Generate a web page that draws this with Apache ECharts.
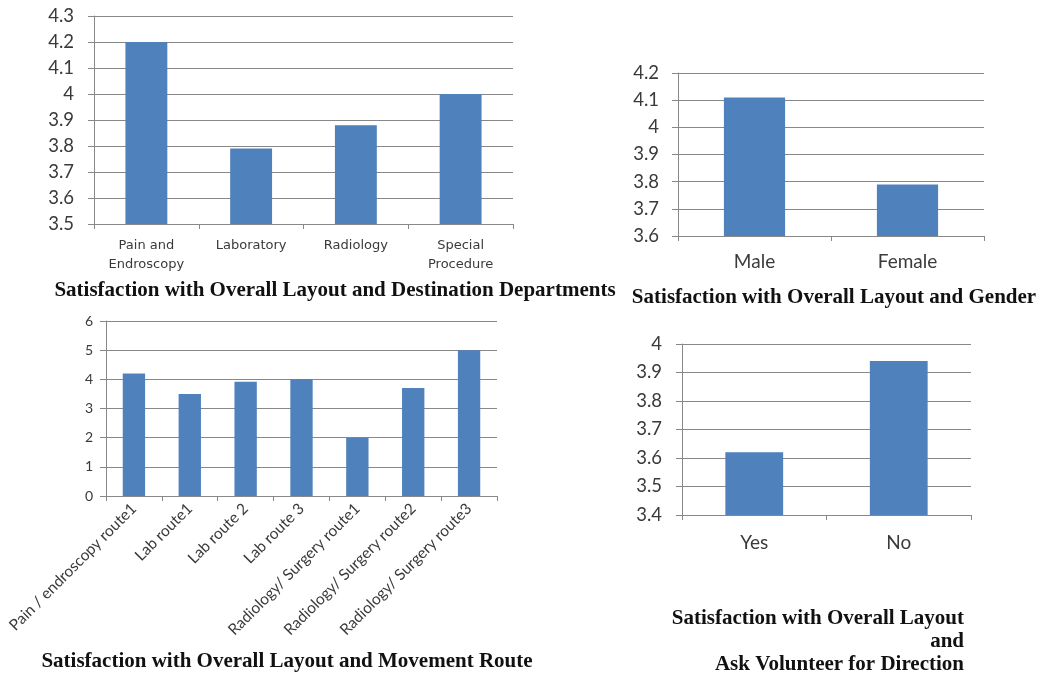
<!DOCTYPE html>
<html>
<head>
<meta charset="utf-8">
<script src="https://cdn.jsdelivr.net/npm/echarts@6/dist/echarts.min.js"></script>
<style>
  html, body { margin: 0; padding: 0; background: #ffffff; }
  #chart { width: 1046px; height: 674px; }
</style>
</head>
<body>
<div id="chart"></div>
<script>
// Satisfaction with overall layout, broken down four ways
const deptCategories = ['Pain and\nEndroscopy', 'Laboratory', 'Radiology', 'Special\nProcedure'];
const deptValues = [4.2, 3.79, 3.88, 4.0];

const genderCategories = ['Male', 'Female'];
const genderValues = [4.11, 3.79];

const routeCategories = [
  'Pain / endroscopy route1', 'Lab route1', 'Lab route 2', 'Lab route 3',
  'Radiology/ Surgery route1', 'Radiology/ Surgery route2', 'Radiology/ Surgery route3'
];
const routeValues = [4.2, 3.5, 3.92, 4.0, 2.0, 3.7, 5.0];

const volunteerCategories = ['Yes', 'No'];
const volunteerValues = [3.62, 3.94];

const titles = [
  'Satisfaction with Overall Layout and Destination Departments',
  'Satisfaction with Overall Layout and Gender',
  'Satisfaction with Overall Layout and Movement Route',
  'Satisfaction with Overall Layout\nand\nAsk Volunteer for Direction'
];

const BAR = '#4f81bd';
const LINE = '#888888';
const TEXT = '#3a3a3a';
const LABEL_FONT = 'Lato, "Open Sans", sans-serif';
const TITLE_FONT = '"Liberation Serif", "DejaVu Serif", serif';

function xAxisFor(gridIndex, data, label) {
  return {
    type: 'category', gridIndex, data,
    axisLine: { lineStyle: { color: LINE, width: 1 } },
    axisTick: { show: true, length: 5, lineStyle: { color: LINE } },
    axisLabel: Object.assign({ color: TEXT, fontFamily: LABEL_FONT, interval: 0 }, label)
  };
}

function yAxisFor(gridIndex, min, max, interval, label) {
  return {
    type: 'value', gridIndex, min, max, interval,
    axisLine: { show: true, lineStyle: { color: LINE, width: 1 } },
    axisTick: { show: true, length: 6, lineStyle: { color: LINE } },
    splitLine: { lineStyle: { color: LINE, width: 1 } },
    axisLabel: Object.assign({
      color: TEXT, fontFamily: LABEL_FONT,
      formatter: v => String(Math.round(v * 10) / 10)
    }, label)
  };
}

function barSeries(index, data) {
  return {
    type: 'bar', xAxisIndex: index, yAxisIndex: index, data,
    barCategoryGap: '60%', itemStyle: { color: BAR }, silent: true
  };
}

function titleText(x, y, text, align) {
  return {
    type: 'text', x, y,
    style: { text, font: 'bold 21px ' + TITLE_FONT, fill: '#111', align, verticalAlign: 'middle', lineHeight: 23 }
  };
}

const option = {
  animation: false,
  backgroundColor: '#ffffff',
  grid: [
    { left: 94, top: 16, width: 419, height: 208 },
    { left: 678, top: 73, width: 306, height: 163 },
    { left: 106, top: 321, width: 391, height: 175 },
    { left: 682, top: 344, width: 289, height: 171 }
  ],
  xAxis: [
    xAxisFor(0, deptCategories, { fontSize: 13, fontFamily: '"DejaVu Sans", sans-serif', lineHeight: 19, margin: 12 }),
    xAxisFor(1, genderCategories, { fontSize: 19, margin: 16 }),
    xAxisFor(2, routeCategories, { fontSize: 15.5, rotate: 45, margin: 10 }),
    xAxisFor(3, volunteerCategories, { fontSize: 19, margin: 18 })
  ],
  yAxis: [
    yAxisFor(0, 3.5, 4.3, 0.1, { fontSize: 18.5, margin: 20 }),
    yAxisFor(1, 3.6, 4.2, 0.1, { fontSize: 18.5, margin: 19 }),
    yAxisFor(2, 0, 6, 1, { fontSize: 14, margin: 13 }),
    yAxisFor(3, 3.4, 4.0, 0.1, { fontSize: 18.5, margin: 20 })
  ],
  series: [
    barSeries(0, deptValues),
    barSeries(1, genderValues),
    barSeries(2, routeValues),
    barSeries(3, volunteerValues)
  ],
  graphic: [
    titleText(335, 291, titles[0], 'center'),
    titleText(834, 298, titles[1], 'center'),
    titleText(287, 662, titles[2], 'center'),
    titleText(964, 642, titles[3], 'right')
  ]
};

const chart = echarts.init(document.getElementById('chart'), null, { renderer: 'canvas' });
chart.setOption(option);
</script>
</body>
</html>
